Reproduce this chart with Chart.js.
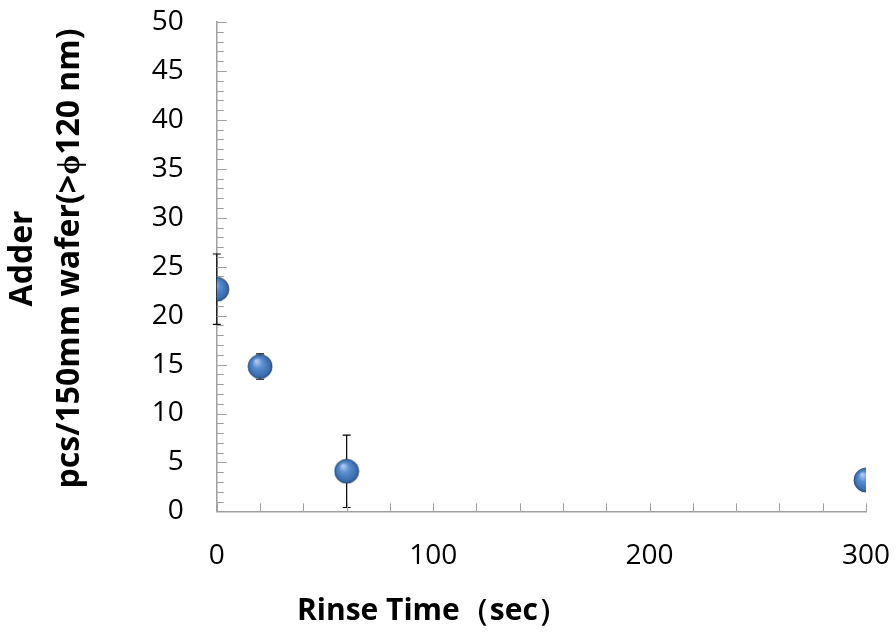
<!DOCTYPE html>
<html lang="en">
<head>
    <meta charset="UTF-8">
    <title>Adder vs Rinse Time</title>
    <script src="https://cdn.jsdelivr.net/npm/chart.js"></script>
    <style>
        body { margin: 0; background: #fff; }
        .chart-container { width: 896px; height: 633px; }
    </style>
</head>
<body>
    <div class="chart-container">
        <canvas id="adderChart"></canvas>
    </div>

    <script>
        const rinseTime = [0, 20, 60, 300];
        const adder = [22.7, 14.8, 4.1, 3.2];
        const adderErr = [3.6, 1.3, 3.7, 0];
        const xTickLabels = [0, 100, 200, 300];
        const yTickLabels = [0, 5, 10, 15, 20, 25, 30, 35, 40, 45, 50];

        // sphere-like marker
        function makeBall(r) {
            const c = document.createElement('canvas');
            c.width = c.height = r * 2 + 2;
            const g = c.getContext('2d');
            const cx = r + 1, cy = r + 1;
            const grad = g.createRadialGradient(cx - r * 0.3, cy - r * 0.45, r * 0.1, cx, cy, r);
            grad.addColorStop(0, '#a9c6ec');
            grad.addColorStop(0.35, '#5b8fd0');
            grad.addColorStop(0.85, '#3a6ead');
            grad.addColorStop(1, '#2a5288');
            g.beginPath();
            g.arc(cx, cy, r, 0, Math.PI * 2);
            g.fillStyle = grad;
            g.fill();
            g.strokeStyle = 'rgba(40,70,120,0.8)';
            g.lineWidth = 1;
            g.stroke();
            return c;
        }

        // error bars + inward tick marks
        const extras = {
            id: 'extras',
            beforeDatasetsDraw(chart) {
                const { ctx, scales: { x, y } } = chart;
                ctx.save();
                ctx.strokeStyle = '#000';
                ctx.lineWidth = 1.2;
                rinseTime.forEach((t, i) => {
                    if (!adderErr[i]) return;
                    const px = x.getPixelForValue(t);
                    const top = y.getPixelForValue(adder[i] + adderErr[i]);
                    const bot = y.getPixelForValue(Math.max(0, adder[i] - adderErr[i]));
                    ctx.beginPath();
                    ctx.moveTo(px, top); ctx.lineTo(px, bot);
                    ctx.moveTo(px - 4, top); ctx.lineTo(px + 4, top);
                    ctx.moveTo(px - 4, bot); ctx.lineTo(px + 4, bot);
                    ctx.stroke();
                });
                ctx.strokeStyle = '#a0a0a0';
                ctx.lineWidth = 1;
                x.ticks.forEach(tk => {
                    const px = Math.round(x.getPixelForValue(tk.value)) + 0.5;
                    ctx.beginPath();
                    ctx.moveTo(px, y.bottom); ctx.lineTo(px, y.bottom - 8);
                    ctx.stroke();
                });
                y.ticks.forEach(tk => {
                    const py = Math.round(y.getPixelForValue(tk.value)) + 0.5;
                    const len = tk.value % 5 === 0 ? 10 : 7;
                    ctx.beginPath();
                    ctx.moveTo(x.left, py); ctx.lineTo(x.left + len, py);
                    ctx.stroke();
                });
                ctx.restore();
            }
        };

        const ctx = document.getElementById('adderChart').getContext('2d');
        new Chart(ctx, {
            type: 'scatter',
            data: {
                datasets: [{
                    label: 'Adder',
                    data: rinseTime.map((t, i) => ({ x: t, y: adder[i] })),
                    pointStyle: makeBall(12),
                    pointRadius: 12,
                    pointHoverRadius: 12
                }]
            },
            options: {
                responsive: true,
                maintainAspectRatio: false,
                animation: false,
                layout: { padding: 0 },
                plugins: {
                    legend: { display: false },
                    tooltip: { enabled: false },
                    title: {
                        display: true,
                        position: 'bottom',
                        // trailing spaces shift the centred title left, as in the original
                        text: 'Rinse Time（sec）    ',
                        color: '#000',
                        font: { family: 'Open Sans', size: 30, weight: 'bold', lineHeight: 1.2 },
                        padding: { top: -8, bottom: 4 }
                    }
                },
                scales: {
                    x: {
                        type: 'linear',
                        min: 0,
                        max: 300,
                        border: { color: '#a0a0a0', width: 1.5 },
                        grid: { display: false, drawTicks: false },
                        ticks: {
                            stepSize: 20,
                            autoSkip: false,
                            maxRotation: 0,
                            padding: 28,
                            color: '#000',
                            font: { family: 'Open Sans', size: 28 },
                            callback: v => xTickLabels.includes(v) ? String(v) : ''
                        },
                        // tick padding inflates the end overhang; keep only what the last label needs
                        afterFit: s => { s.paddingRight = 30; }
                    },
                    y: {
                        min: 0,
                        max: 50,
                        border: { color: '#a0a0a0', width: 1.5 },
                        grid: { display: false, drawTicks: false },
                        ticks: {
                            stepSize: 1,
                            autoSkip: false,
                            maxTicksLimit: 100,
                            padding: 33,
                            color: '#000',
                            font: { family: 'Open Sans', size: 28 },
                            callback: v => yTickLabels.includes(v) ? String(v) : ''
                        },
                        afterFit: s => { s.paddingTop = 22; },
                        title: {
                            display: true,
                            // leading spaces nudge the centred title slightly upward, as in the original
                            text: ['  Adder', '  pcs/150mm wafer(>ϕ120 nm)'],
                            color: '#000',
                            font: { family: 'Open Sans', size: 32, weight: 'bold', lineHeight: 1.45 },
                            padding: { top: 0, bottom: 26 }
                        }
                    }
                }
            },
            plugins: [extras]
        });
    </script>
</body>
</html>
